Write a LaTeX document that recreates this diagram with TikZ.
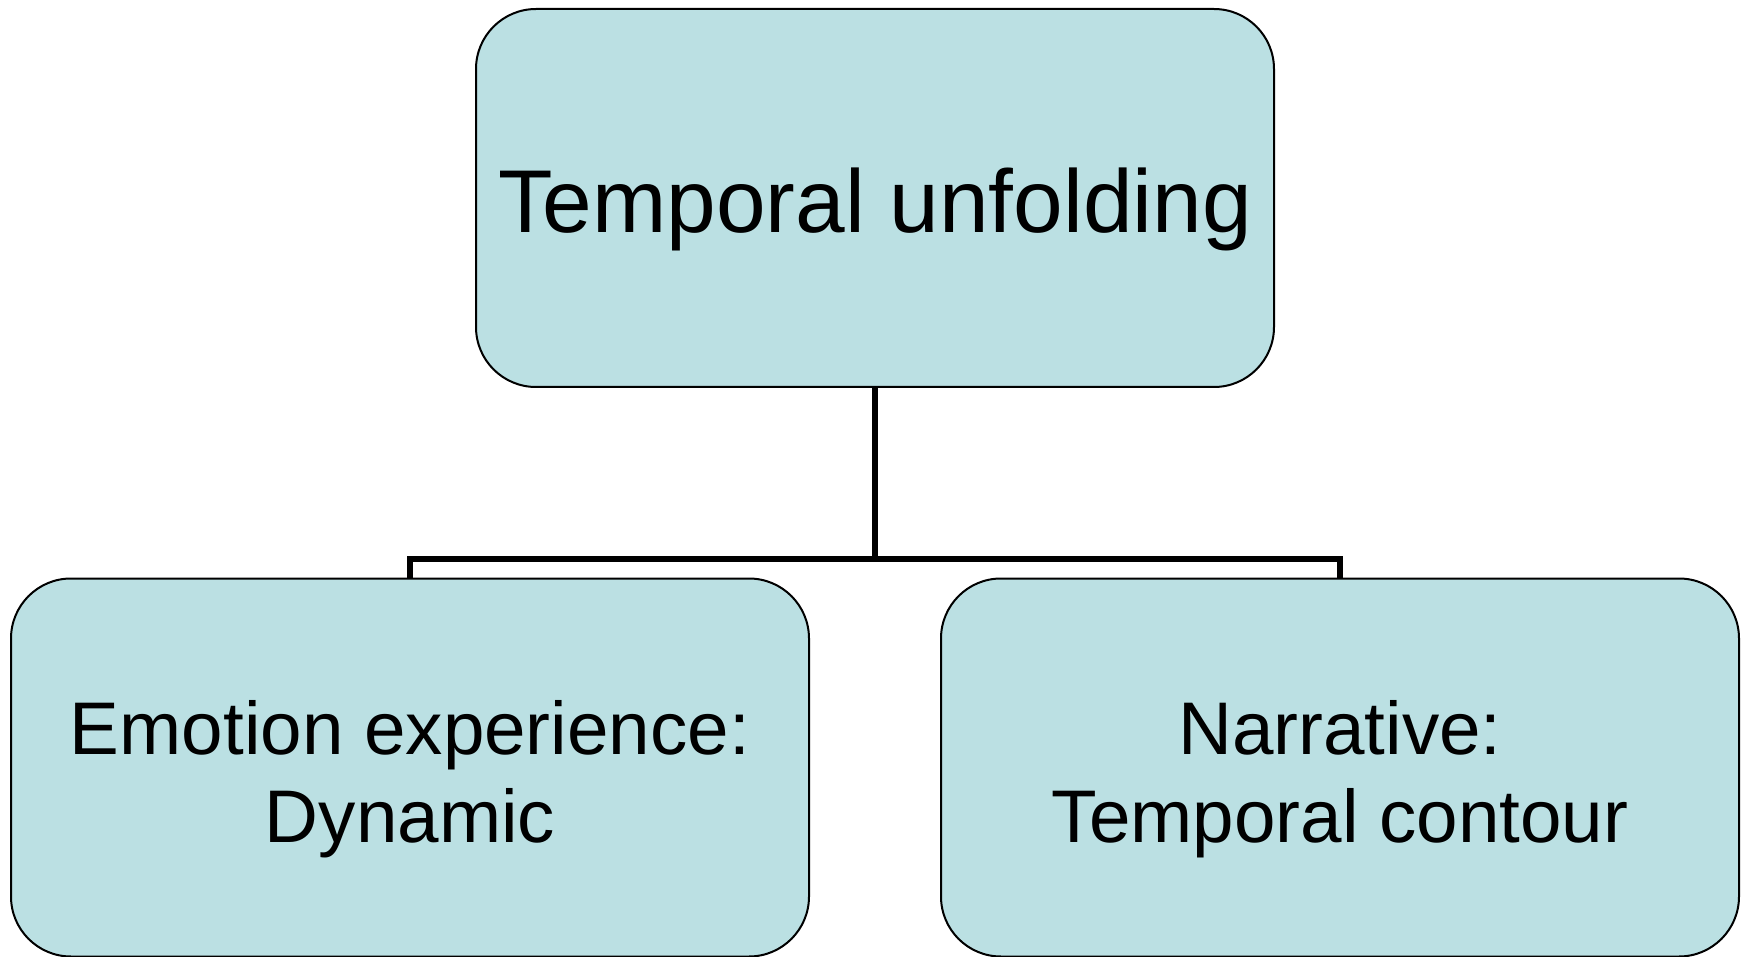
\documentclass[tikz,border=0pt]{standalone}
\usepackage{fontspec}
\setmainfont{Liberation Sans}
\newcommand{\lowered}[2]{\raisebox{-#1}[\height][\depth]{#2}}
\begin{document}
\definecolor{boxfill}{RGB}{187,224,227}
\begin{tikzpicture}[x=0.5pt,y=-0.5pt,
  box/.style={draw=black, line width=1pt, fill=boxfill, rounded corners=30pt,
    minimum width=399pt, minimum height=189pt, align=center, inner sep=0pt},
  link/.style={draw=black, line width=3pt}]
  \useasboundingbox (0,0) rectangle (1747,957);
  \node[box, font=\fontsize{44.6}{50}\selectfont] (top) at (875,198)
    {\lowered{5.5pt}{Temporal unfolding}};
  \node[box, font=\fontsize{37.3}{44}\selectfont] (left) at (410,767.5)
    {\lowered{6.5pt}{\begin{tabular}{@{}c@{}}Emotion experience:\\Dynamic\end{tabular}}};
  \node[box, font=\fontsize{37.3}{44}\selectfont] (right) at (1340,767.5)
    {\lowered{6.5pt}{\begin{tabular}{@{}c@{}}Narrative:\\Temporal contour\end{tabular}}};
  \coordinate (bar) at (875,559);
  \draw[link] (top.south) -- (bar);
  \draw[link] (left.north) |- (bar) -| (right.north);
\end{tikzpicture}
\end{document}
